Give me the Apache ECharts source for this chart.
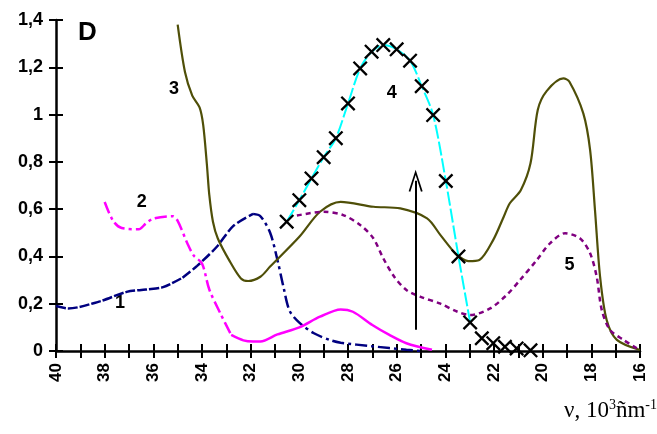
<!DOCTYPE html>
<html lang="en">
<head>
    <meta charset="UTF-8">
    <title>D spectra</title>
    <script src="https://cdn.jsdelivr.net/npm/echarts@6/dist/echarts.min.js"></script>
</head>
<body style="margin:0">
<div id="mybox" style="height: 434px;width: 657px;"></div>
<script>
    // curve data: [wavenumber 10^3 cm-1, D]
    var curve1a = [[40,0.19],[39.5,0.18],[38.2,0.21],[37.1,0.25],[36.3,0.26],[35.6,0.27],[34.8,0.31]];
    var curve1b = [[34.8,0.31],[34.2,0.36],[33.4,0.44],[32.7,0.53],[31.9,0.58]];
    var curve1c = [[31.9,0.58],[31.6,0.57],[31.2,0.5],[30.9,0.385],[30.65,0.27],[30.4,0.17],[30,0.12],[29.4,0.075],[28.7,0.045],[28.3,0.035],[27,0.02],[25.6,0.005],[25,0]];
    var curve2a = [[38,0.63],[37.65,0.55],[37.3,0.52],[36.6,0.515],[36.3,0.54],[36,0.56],[35.2,0.57],[35,0.55],[34.6,0.455],[34.35,0.405],[34,0.37],[33.7,0.26],[33.25,0.16],[32.8,0.068]];
    var curve2b = [[32.8,0.068],[32.3,0.045],[31.9,0.04],[31.6,0.04],[30.9,0.07],[30,0.1],[29.15,0.145],[28.3,0.176],[27.8,0.166],[27,0.11],[26.3,0.068],[25.6,0.033],[24.55,0.005]];
    var curve3 = [[35,1.38],[34.7,1.18],[34.4,1.08],[34.1,1.03],[33.95,0.955],[33.8,0.79],[33.7,0.66],[33.55,0.547],[33.35,0.476],[32.85,0.378],[32.4,0.307],[32.1,0.296],[31.6,0.314],[31.2,0.357],[30,0.483],[29.15,0.589],[28.3,0.631],[26.95,0.61],[25.85,0.603],[24.75,0.561],[24.2,0.49],[23.6,0.413],[23.45,0.4],[23.05,0.38],[22.6,0.385],[22.03,0.47],[21.6,0.568],[21.35,0.625],[20.9,0.68],[20.5,0.794],[20.2,1.02],[19.83,1.1],[19.15,1.153],[18.9,1.139],[18.33,1.005],[18.05,0.85],[17.85,0.596],[17.64,0.314],[17.37,0.131],[16.95,0.047],[16,0.004]];
    var curve4 = [[30.52,0.547],[30,0.638],[29.5,0.73],[29,0.82],[28.5,0.9],[28,1.047],[27.5,1.195],[27.03,1.266],[26.55,1.294],[26,1.276],[25.45,1.228],[24.97,1.12],[24.5,0.998],[23.98,0.719],[23.46,0.4],[22.98,0.121]];
    var curve4tail = [[22.5,0.054],[22.03,0.033],[21.55,0.018],[21.07,0.011],[20.5,0.003]];
    var curve5 = [[30.1,0.573],[29,0.589],[28.2,0.575],[27.5,0.533],[26.96,0.477],[26.55,0.392],[26.1,0.314],[25.6,0.258],[25.04,0.23],[24.2,0.2],[23.5,0.166],[22.98,0.152],[22.16,0.18],[21.48,0.237],[20.93,0.3],[20.24,0.385],[19.7,0.455],[19.08,0.498],[18.46,0.476],[18.05,0.413],[17.78,0.314],[17.57,0.173],[17.23,0.089],[16.68,0.047],[16.13,0.011]];
    var curveLabels = [[37.37,0.203,'1'],[36.48,0.631,'2'],[35.15,1.108,'3'],[26.2,1.092,'4'],[18.9,0.364,'5']];
    var arrowLine = [[25.22,0.09],[25.22,0.72]];

    var crossPath = 'path://M0,1.1L1.1,0L10,8.9L8.9,10ZM8.9,0L10,1.1L1.1,10L0,8.9Z';
    var headPath = 'path://M5,0L10,14L8.8,14.4L5,3.4L1.2,14.4L0,14Z';
    var bold = {fontFamily: 'Liberation Sans, Arial', fontWeight: 'bold', color: '#000'};

    function line(data, color, type, width) {
        return {
            type: 'line', data: data, smooth: 0.3, symbol: 'none', silent: true,
            lineStyle: {color: color, width: width || 2.5, type: type}
        };
    }

    var mychart = echarts.init(document.getElementById('mybox'));
    mychart.setOption({
        animation: false,
        grid: {left: 56, right: 17, top: 20, bottom: 83},
        xAxis: [{
            type: 'value', min: 16, max: 40, interval: 1, inverse: true,
            splitLine: {show: false},
            axisLine: {onZero: false, lineStyle: {color: '#000', width: 2.5}},
            axisTick: {length: 7, lineStyle: {color: '#000', width: 2}},
            axisLabel: Object.assign({
                rotate: 90, fontSize: 17, margin: 12,
                formatter: function (v) { return v % 2 === 0 ? String(v) : ''; }
            }, bold)
        }, {
            type: 'value', min: 16, max: 40, interval: 1, inverse: true, position: 'bottom',
            splitLine: {show: false}, axisLine: {show: false}, axisLabel: {show: false},
            axisTick: {inside: true, length: 7, lineStyle: {color: '#000', width: 2}}
        }],
        yAxis: [{
            type: 'value', min: 0, max: 1.4, interval: 0.2,
            splitLine: {show: false},
            axisLine: {show: true, lineStyle: {color: '#000', width: 2.5}},
            axisTick: {show: true, length: 7, lineStyle: {color: '#000', width: 2}},
            axisLabel: Object.assign({
                fontSize: 18, margin: 13,
                formatter: function (v) { return String(Math.round(v * 10) / 10).replace('.', ','); }
            }, bold)
        }, {
            type: 'value', min: 0, max: 1.4, interval: 0.2, position: 'left',
            splitLine: {show: false}, axisLine: {show: false}, axisLabel: {show: false},
            axisTick: {show: true, inside: true, length: 7, lineStyle: {color: '#000', width: 2}}
        }],
        graphic: [{
            type: 'text', left: 78, top: 20,
            style: {text: 'D', font: 'bold 26px Liberation Sans, Arial', fill: '#000'}
        }, {
            type: 'text', right: 0, top: 398,
            style: {
                text: 'ν, 10{sup|3}ñm{sup|-1}',
                font: '23px Liberation Serif, Times New Roman', fill: '#000',
                rich: {sup: {font: '14px Liberation Serif, Times New Roman', verticalAlign: 'top', padding: [0, 0, 12, 0]}}
            }
        }],
        series: [
            line(curve1a, '#000080', [10, 2]),
            line(curve1b, '#000080', [10, 3]),
            line(curve1c, '#000080', [12, 4, 3, 4]),
            line(curve2a, '#ff00ff', [12, 4, 3, 4]),
            line(curve2b, '#ff00ff', 'solid'),
            line(curve3, '#4f4f08', 'solid', 2.2),
            line(curve5, '#800080', [5, 4], 2.5),
            {
                type: 'line', data: curve4, smooth: 0.3, silent: true,
                symbol: crossPath, symbolSize: 15, showAllSymbol: true,
                itemStyle: {color: '#000', opacity: 1},
                lineStyle: {color: '#00ffff', width: 2, type: [14, 3]}
            },
            {
                type: 'scatter', data: curve4tail, silent: true,
                symbol: crossPath, symbolSize: 15, itemStyle: {color: '#000', opacity: 1}
            },
            {
                type: 'scatter', data: curveLabels, symbolSize: 1, silent: true,
                itemStyle: {color: 'transparent', opacity: 1},
                label: {
                    show: true, position: 'inside', fontSize: 18, fontWeight: 'bold',
                    fontFamily: 'Liberation Sans, Arial', color: '#000', opacity: 1,
                    formatter: function (p) { return p.data[2]; }
                },
                markLine: {
                    silent: true, symbol: ['none', headPath], symbolSize: [14, 22],
                    label: {show: false},
                    lineStyle: {color: '#000', width: 2, type: 'solid', opacity: 1},
                    data: [[{coord: arrowLine[0]}, {coord: arrowLine[1]}]]
                }
            }
        ]
    });
</script>
</body>
</html>
